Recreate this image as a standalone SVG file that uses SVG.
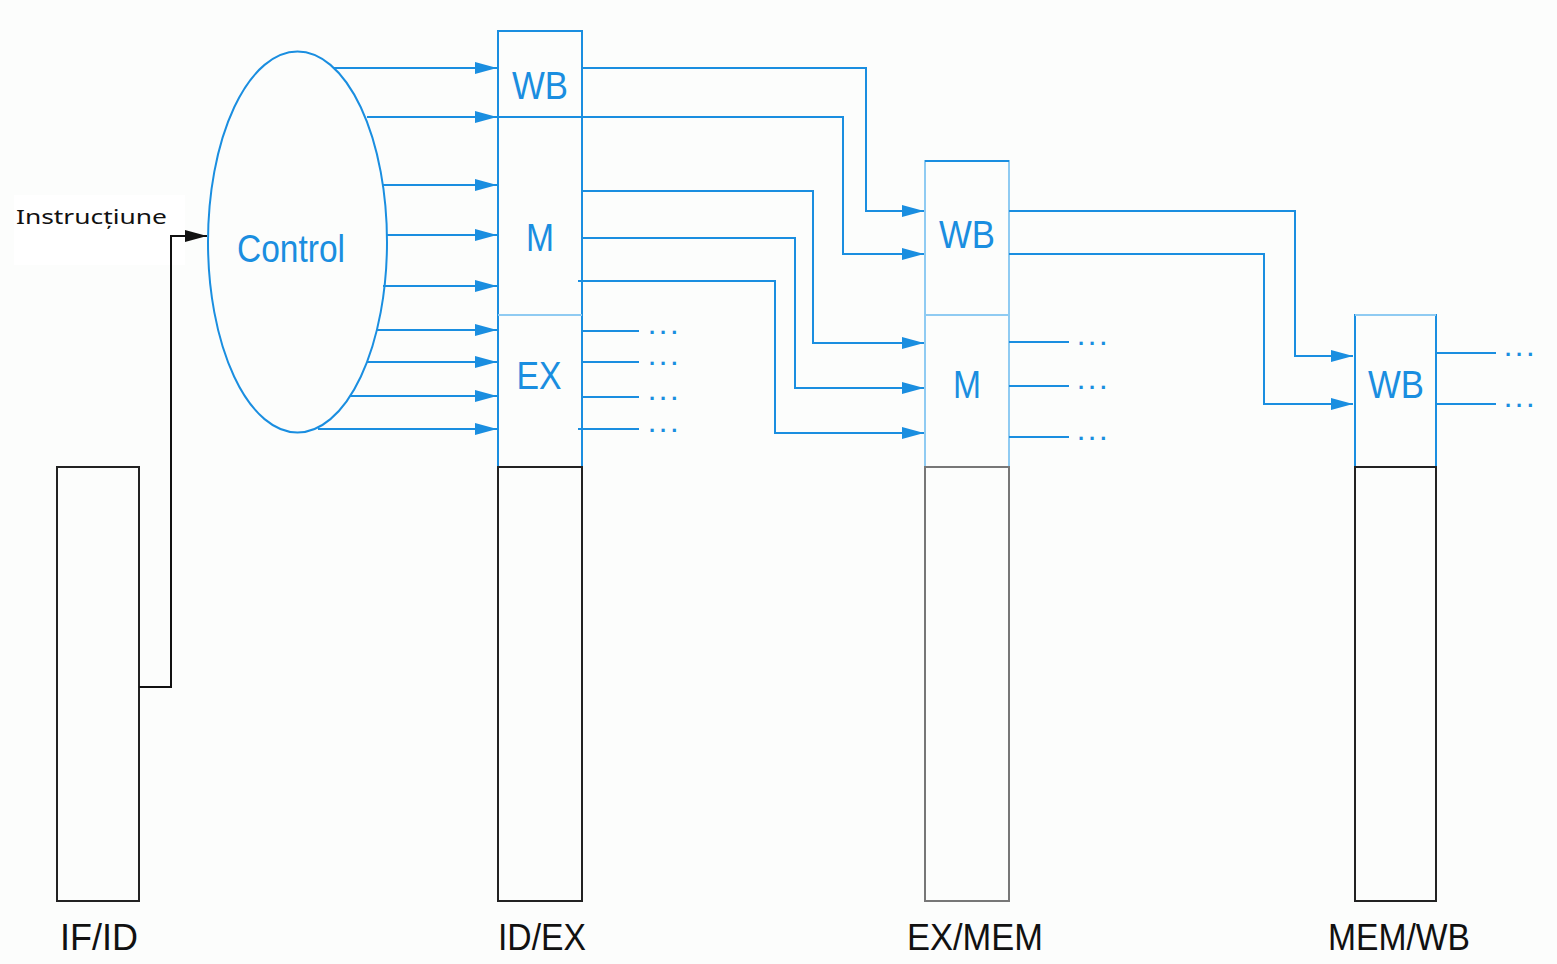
<svg xmlns="http://www.w3.org/2000/svg" width="1557" height="964" viewBox="0 0 1557 964">
<style>
.bl{fill:none;stroke:#1a8ee0;stroke-width:2}
.lt{fill:none;stroke:#8fcbf2;stroke-width:2}
.bk{fill:none;stroke:#222;stroke-width:2}
.gr{fill:none;stroke:#777;stroke-width:2}
.lab{font-family:"Liberation Sans",Arial,sans-serif;fill:#1a8ee0;font-size:38px;text-anchor:middle}
.bot{font-family:"Liberation Sans",Arial,sans-serif;fill:#111;font-size:37px;text-anchor:middle}
.dots{font-family:"Liberation Sans",Arial,sans-serif;fill:#1a8ee0;font-size:22px;font-weight:bold;letter-spacing:5px}
.c{fill:none;stroke:#1a8ee0;stroke-width:2;marker-end:url(#ab)}
.o{fill:none;stroke:#1a8ee0;stroke-width:2}
</style>
<defs>
<marker id="ab" markerUnits="userSpaceOnUse" markerWidth="22" markerHeight="14" refX="22" refY="7" orient="auto">
<path d="M0,1 L22,7 L0,13 z" fill="#1a8ee0"/>
</marker>
<marker id="ak" markerUnits="userSpaceOnUse" markerWidth="22" markerHeight="14" refX="22" refY="7" orient="auto">
<path d="M0,1 L22,7 L0,13 z" fill="#111"/>
</marker>
</defs>
<rect width="1557" height="964" fill="#fcfdfc"/>
<rect x="14" y="195" width="171" height="70" fill="#ffffff"/>

<g id="ifid">
<rect class="bk" x="57" y="467" width="82" height="434"/>
<text class="bot" x="99" y="950" textLength="78" lengthAdjust="spacingAndGlyphs">IF/ID</text>
</g>

<g id="control">
<ellipse class="bl" cx="297.5" cy="242" rx="89.5" ry="190.5"/>
<text class="lab" x="291" y="262" textLength="108" lengthAdjust="spacingAndGlyphs">Control</text>
</g>

<g id="instr-label">
<text x="16" y="224" font-family="'Noto Sans','Open Sans',sans-serif" font-size="19" fill="#111" textLength="151" lengthAdjust="spacingAndGlyphs">Instrucțiune</text>
</g>

<g id="idex">
<rect class="bl" x="498" y="31" width="84" height="436"/>
<line class="lt" x1="498" y1="315" x2="582" y2="315"/>
<rect class="bk" x="498" y="467" width="84" height="434"/>
<text class="lab" x="540" y="99" textLength="56" lengthAdjust="spacingAndGlyphs">WB</text>
<text class="lab" x="540" y="251" textLength="28" lengthAdjust="spacingAndGlyphs">M</text>
<text class="lab" x="539" y="389" textLength="45" lengthAdjust="spacingAndGlyphs">EX</text>
<text class="bot" x="542" y="950" textLength="88" lengthAdjust="spacingAndGlyphs">ID/EX</text>
</g>

<g id="exmem">
<rect class="lt" x="925" y="161" width="84" height="306"/>
<line class="bl" x1="925" y1="161" x2="1009" y2="161"/>
<line class="lt" x1="925" y1="315" x2="1009" y2="315"/>
<rect class="gr" x="925" y="467" width="84" height="434"/>
<text class="lab" x="967" y="248" textLength="56" lengthAdjust="spacingAndGlyphs">WB</text>
<text class="lab" x="967" y="398" textLength="28" lengthAdjust="spacingAndGlyphs">M</text>
<text class="bot" x="975" y="950" textLength="136" lengthAdjust="spacingAndGlyphs">EX/MEM</text>
</g>

<g id="memwb">
<rect class="bl" x="1355" y="315" width="81" height="152"/>
<line class="lt" x1="1355" y1="315" x2="1436" y2="315"/>
<rect class="bk" x="1355" y="467" width="81" height="434"/>
<text class="lab" x="1396" y="398" textLength="56" lengthAdjust="spacingAndGlyphs">WB</text>
<text class="bot" x="1399" y="950" textLength="142" lengthAdjust="spacingAndGlyphs">MEM/WB</text>
</g>

<g id="connectors">
<polyline points="139,687 171,687 171,236 207,236" fill="none" stroke="#111" stroke-width="2" marker-end="url(#ak)"/>

<line class="c" x1="334" y1="68" x2="497" y2="68"/>
<line class="c" x1="367" y1="117" x2="497" y2="117"/>
<line class="c" x1="383" y1="185" x2="497" y2="185"/>
<line class="c" x1="387" y1="235" x2="497" y2="235"/>
<line class="c" x1="383" y1="286" x2="497" y2="286"/>
<line class="c" x1="377" y1="330" x2="497" y2="330"/>
<line class="c" x1="367" y1="362" x2="497" y2="362"/>
<line class="c" x1="350" y1="396" x2="497" y2="396"/>
<line class="c" x1="318" y1="429" x2="497" y2="429"/>

<polyline class="c" points="582,68 866,68 866,211 924,211"/>
<polyline class="c" points="498,117 843,117 843,254 924,254"/>
<polyline class="c" points="582,191 813,191 813,343 924,343"/>
<polyline class="c" points="582,238 795,238 795,388 924,388"/>
<polyline class="c" points="578,281 775,281 775,433 924,433"/>

<line class="o" x1="582" y1="331" x2="639" y2="331"/>
<line class="o" x1="582" y1="362" x2="639" y2="362"/>
<line class="o" x1="582" y1="397" x2="639" y2="397"/>
<line class="o" x1="578" y1="429" x2="639" y2="429"/>
<text class="dots" x="649" y="334">...</text>
<text class="dots" x="649" y="365">...</text>
<text class="dots" x="649" y="400">...</text>
<text class="dots" x="649" y="432">...</text>

<polyline class="c" points="1009,211 1295,211 1295,356 1353,356"/>
<polyline class="c" points="1009,254 1264,254 1264,404 1353,404"/>

<line class="o" x1="1009" y1="342" x2="1069" y2="342"/>
<line class="o" x1="1009" y1="386" x2="1069" y2="386"/>
<line class="o" x1="1009" y1="437" x2="1069" y2="437"/>
<text class="dots" x="1078" y="345">...</text>
<text class="dots" x="1078" y="389">...</text>
<text class="dots" x="1078" y="440">...</text>

<line class="o" x1="1436" y1="353" x2="1496" y2="353"/>
<line class="o" x1="1436" y1="404" x2="1496" y2="404"/>
<text class="dots" x="1505" y="356">...</text>
<text class="dots" x="1505" y="407">...</text>
</g>
</svg>
